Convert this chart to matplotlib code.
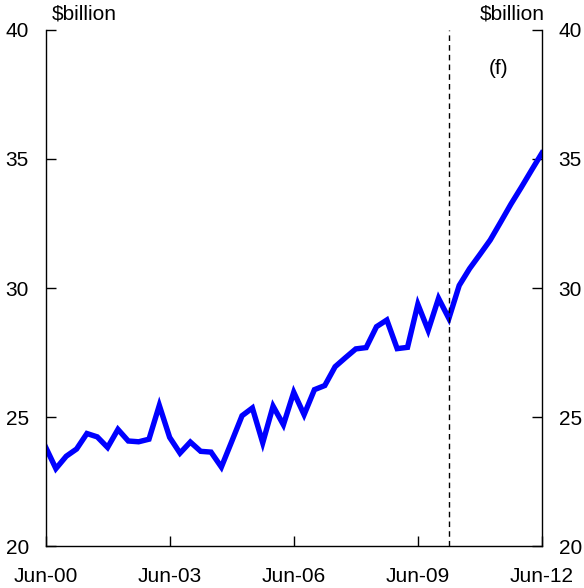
import matplotlib
matplotlib.use("Agg")
import matplotlib.pyplot as plt

plt.rcParams['font.family'] = ['Liberation Sans', 'DejaVu Sans']

# quarterly, Jun-00 .. Jun-12 ($billion); forecast from Mar-10
values = [23.84, 23.0, 23.48, 23.76, 24.36, 24.23, 23.82, 24.52, 24.07, 24.04,
          24.14, 25.45, 24.21, 23.6, 24.03, 23.67, 23.64, 23.06, 24.05, 25.05,
          25.35, 24.0, 25.42, 24.7, 25.96, 25.09, 26.06, 26.22, 26.95, 27.3,
          27.64, 27.69, 28.5, 28.76, 27.65, 27.7, 29.37, 28.36, 29.6, 28.82,
          30.1, 30.75, 31.3, 31.86, 32.55, 33.25, 33.9, 34.57, 35.23]
quarters = list(range(len(values)))
tick_pos = [0, 12, 24, 36, 48]
tick_labels = ['Jun-00', 'Jun-03', 'Jun-06', 'Jun-09', 'Jun-12']
yticks = [20, 25, 30, 35, 40]
forecast_start = 39

fig = plt.figure(figsize=(5.84, 5.88), dpi=100)
ax = fig.add_axes([0.078, 0.0714, 0.850, 0.8776])

ax.plot(quarters, values, color='#0000ff', lw=3.9, solid_joinstyle='miter')
ax.axvline(forecast_start, color='black', lw=1, ls=(0, (4, 3)))

ax.set_xlim(0, 48)
ax.set_ylim(20, 40)
ax.set_xticks(tick_pos)
ax.set_xticklabels(tick_labels)
ax.set_yticks(yticks)
ax.tick_params(axis='both', direction='in', length=7, width=1, labelsize=15,
               right=True, labelright=True, top=False)
ax.tick_params(axis='y', pad=12)
ax.tick_params(axis='x', pad=15)
ax.spines['top'].set_visible(False)
for s in ['left', 'right', 'bottom']:
    ax.spines[s].set_linewidth(1)

ax.text(0.012, 1.012, '$billion', transform=ax.transAxes, fontsize=15,
        ha='left', va='bottom')
ax.text(1.005, 1.012, '$billion', transform=ax.transAxes, fontsize=15,
        ha='right', va='bottom')
ax.text(43.8, 38.5, '(f)', fontsize=15, ha='center', va='center')

fig.savefig('out.png', dpi=100)
